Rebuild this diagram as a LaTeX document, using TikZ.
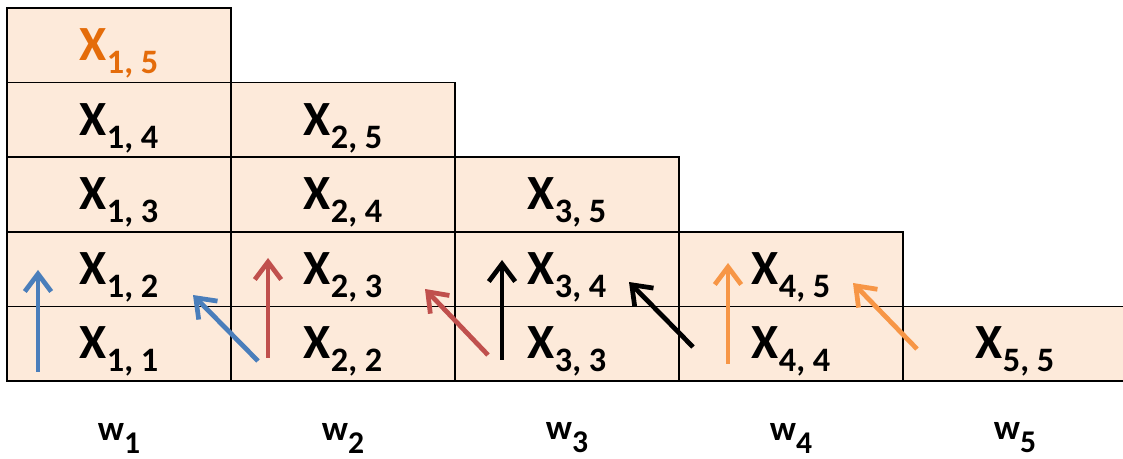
\documentclass[tikz,border=0pt]{standalone}
\usepackage{fontspec}
\setmainfont{Carlito}
\usetikzlibrary{arrows.meta}
\definecolor{CellPeach}{RGB}{253,234,218}
\definecolor{DiagOrange}{RGB}{228,108,10}
\definecolor{LinkBlue}{RGB}{74,126,187}
\definecolor{LinkRed}{RGB}{192,80,77}
\definecolor{LinkOrange}{RGB}{247,150,70}
\newcommand{\xlab}[2]{{\fontsize{28}{30}\selectfont X}\raisebox{-7.4pt}{\fontsize{19.5}{22}\selectfont #1,\ #2}}
\newcommand{\wlab}[1]{{\fontsize{20}{22}\selectfont w}\raisebox{-7.4pt}{\fontsize{18}{20}\selectfont #1}}
\tikzset{
  cellbox/.style={draw=black,line width=0.9pt,fill=CellPeach,
    minimum width=4.48cm,minimum height=1.492cm,inner sep=0pt},
  link/.style={-{Straight Barb[length=10pt,width=15pt]},line width=2.7pt}
}

\begin{document}
\begin{tikzpicture}[x=0.02cm,y=-0.02cm,font=\bfseries]
  \useasboundingbox (0,0) rectangle (1123,459);
  % triangular table of cells
  \foreach \i in {1,...,5}{
    \foreach \k in {\i,...,5}{
      \pgfmathsetmacro\cx{119+224*(\i-1)}
      \pgfmathsetmacro\cy{381-74.6*(\k-\i+0.5)}
      \ifnum\i\k=15 \def\tc{DiagOrange}\else\def\tc{black}\fi
      \node[cellbox] (c\i\k) at (\cx,\cy) {};
      \node[text=\tc,inner sep=0pt] (x\i\k) at (\cx,\cy+8) {\xlab{\i}{\k}};
    }
    \node[inner sep=0pt] (w\i) at (119+224*\i-224,438) {\wlab{\i}};
  }
  % arrow ends
  \coordinate (a1s) at (38,372);  \coordinate (a1e) at (38,270);
  \coordinate (d1s) at (258,361); \coordinate (d1e) at (193,295);
  \coordinate (a2s) at (268,358); \coordinate (a2e) at (268,258);
  \coordinate (d2s) at (488,355); \coordinate (d2e) at (425,289);
  \coordinate (a3s) at (502,360); \coordinate (a3e) at (502,260);
  \coordinate (d3s) at (693,347); \coordinate (d3e) at (629,282);
  \coordinate (a4s) at (728,364); \coordinate (a4e) at (728,263);
  \coordinate (d4s) at (917,349); \coordinate (d4e) at (853,283);
  \draw[link,LinkBlue] (a1s) -- (a1e);
  \draw[link,LinkBlue] (d1s) -- (d1e);
  \draw[link,LinkRed] (a2s) -- (a2e);
  \draw[link,LinkRed] (d2s) -- (d2e);
  \draw[link,black] (a3s) -- (a3e);
  \draw[link,black] (d3s) -- (d3e);
  \draw[link,LinkOrange] (a4s) -- (a4e);
  \draw[link,LinkOrange] (d4s) -- (d4e);
\end{tikzpicture}
\end{document}
